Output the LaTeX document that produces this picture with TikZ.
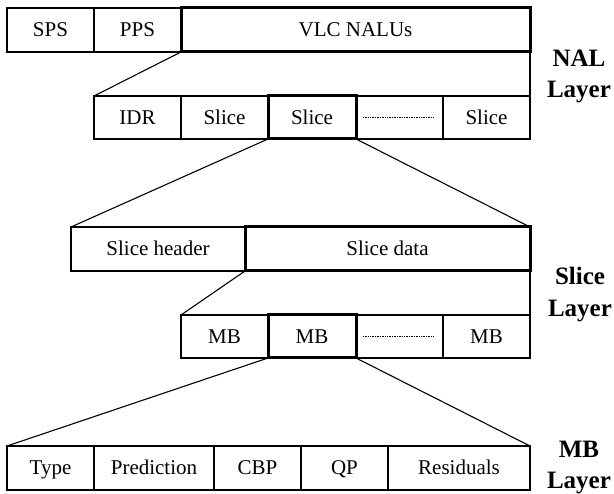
\documentclass[tikz,border=0pt]{standalone}
\usepackage{fontspec}
\setmainfont{Liberation Serif}
\begin{document}
\begin{tikzpicture}[x=1pt,y=-1pt,
  cell/.style={draw,line width=1.3pt,rectangle,inner sep=0pt,outer sep=0pt,
    text height=18pt,text depth=4pt,font=\fontsize{21}{25}\selectfont},
  thickcell/.style={cell,line width=3pt},
  conn/.style={line width=1.1pt},
  lab/.style={anchor=base,inner sep=0pt,font=\fontsize{25}{31}\selectfont\bfseries},
  dotline/.style={line width=0.9pt,dash pattern=on 0.7pt off 1pt}]
\useasboundingbox (0,0) rectangle (614,494);
% Row 1
\node[cell,minimum width=87pt,minimum height=44pt] (sps) at (50.5,30) {SPS};
\node[cell,minimum width=87pt,minimum height=44pt] (pps) at (137.5,30) {PPS};
% Row 2
\node[cell,minimum width=87pt,minimum height=43pt] (idr) at (137.5,117.5) {IDR};
\node[cell,minimum width=87pt,minimum height=43pt] (sl1) at (224.5,117.5) {Slice};
\node[cell,minimum width=87pt,minimum height=43pt] (dt1) at (399.5,117.5) {};
\node[cell,minimum width=87pt,minimum height=43pt] (sl3) at (486.5,117.5) {Slice};
% Row 3
\node[cell,minimum width=174pt,minimum height=44pt] (sh) at (158,249) {Slice header};
% Row 4
\node[cell,minimum width=87pt,minimum height=43pt] (mb1) at (224.5,336.5) {MB};
\node[cell,minimum width=87pt,minimum height=43pt] (dt2) at (399.5,336.5) {};
\node[cell,minimum width=87pt,minimum height=43pt] (mb3) at (486.5,336.5) {MB};
% Row 5
\node[cell,minimum width=87pt,minimum height=44pt] (type) at (50.5,468) {Type};
\node[cell,minimum width=120pt,minimum height=44pt] (pred) at (154,468) {Prediction};
\node[cell,minimum width=87pt,minimum height=44pt] (cbp) at (257.5,468) {CBP};
\node[cell,minimum width=87pt,minimum height=44pt] (qp) at (344.5,468) {QP};
\node[cell,minimum width=142pt,minimum height=44pt] (res) at (459,468) {Residuals};
% thick cells on top
\node[thickcell,minimum width=349pt,minimum height=44pt] (vlc) at (355.5,30) {VLC NALUs};
\node[thickcell,minimum width=88pt,minimum height=43pt] (sl2) at (312,117.5) {Slice};
\node[thickcell,minimum width=285pt,minimum height=44pt] (sd) at (387.5,249) {Slice data};
\node[thickcell,minimum width=88pt,minimum height=43pt] (mb2) at (312,336.5) {MB};
% dotted fillers
\draw[dotline] ([xshift=7pt]dt1.west) -- ([xshift=-9pt]dt1.east);
\draw[dotline] ([xshift=7pt]dt2.west) -- ([xshift=-9pt]dt2.east);
% connectors
\draw[conn] (vlc.south west) -- (idr.north west);
\draw[conn] (vlc.south east) -- (sl3.north east);
\draw[conn] (sl2.south west) -- (sh.north west);
\draw[conn] (sl2.south east) -- (sd.north east);
\draw[conn] (sd.south west) -- (mb1.north west);
\draw[conn] (sd.south east) -- (mb3.north east);
\draw[conn] (mb2.south west) -- (type.north west);
\draw[conn] (mb2.south east) -- (res.north east);
% layer labels
\node[lab] (nal1) at (579,67) {NAL};
\node[lab] (nal2) at (579,98) {Layer};
\node[lab] (slc1) at (580,285) {Slice};
\node[lab] (slc2) at (580,317) {Layer};
\node[lab] (mbl1) at (579,458) {MB};
\node[lab] (mbl2) at (579,489) {Layer};
\end{tikzpicture}
\end{document}
